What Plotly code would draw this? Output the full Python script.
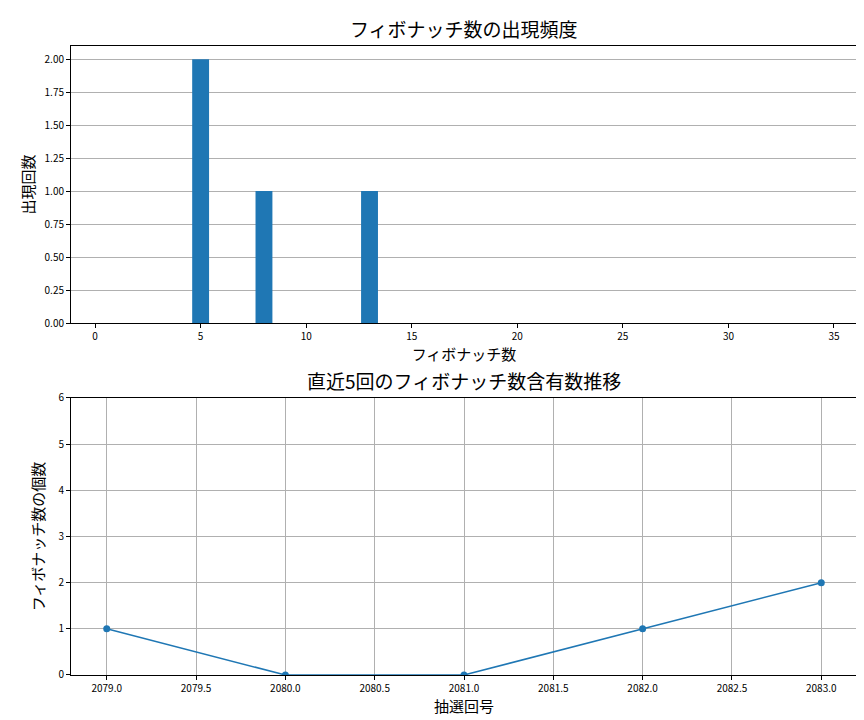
import plotly.graph_objects as go
from plotly.subplots import make_subplots

# top: frequency of fibonacci numbers
fib_numbers = [5, 8, 13]
fib_counts = [2, 1, 1]

# bottom: fibonacci count per draw
draw_ids = [2079, 2080, 2081, 2082, 2083]
fib_per_draw = [1, 0, 0, 1, 2]

blue = "#1f77b4"
font = "Noto Sans CJK JP"

fig = make_subplots(rows=2, cols=1, vertical_spacing=0.1192)

fig.add_trace(go.Bar(x=fib_numbers, y=fib_counts, width=0.8, marker=dict(color=blue, line_width=0)),
              row=1, col=1)
fig.add_trace(go.Scatter(x=draw_ids, y=fib_per_draw, mode="lines+markers",
                         line=dict(color=blue, width=1.5), marker=dict(color=blue, size=7)),
              row=2, col=1)

fig.update_layout(
    width=864, height=720, showlegend=False,
    plot_bgcolor="white", paper_bgcolor="white",
    margin=dict(l=63, r=15, t=38, b=53),
    font=dict(family=font, size=10, color="black"),
    annotations=[
        dict(text="フィボナッチ数の出現頻度", x=0.5, y=1.0, xref="paper", yref="paper",
             xanchor="center", yanchor="bottom", yshift=2, showarrow=False, font=dict(size=19)),
        dict(text="直近5回のフィボナッチ数含有数推移", x=0.5, y=0.4404, xref="paper", yref="paper",
             xanchor="center", yanchor="bottom", yshift=2, showarrow=False, font=dict(size=19)),
    ],
)

axis_common = dict(showline=True, mirror=True, linecolor="black", linewidth=1,
                   ticks="outside", ticklen=4, tickcolor="black", zeroline=False,
                   gridcolor="#b0b0b0", gridwidth=0.8)

fig.update_xaxes(axis_common, row=1, col=1, range=[-1.14, 36.09], dtick=5, showgrid=False,
                 title=dict(text="フィボナッチ数", font=dict(size=15), standoff=4))
fig.update_yaxes(axis_common, row=1, col=1, range=[0, 2.1], dtick=0.25, tickformat=".2f",
                 showgrid=True,
                 title=dict(text="出現回数", font=dict(size=15), standoff=6))
fig.update_xaxes(axis_common, row=2, col=1, range=[2078.8, 2083.2], dtick=0.5, tickformat=".1f",
                 showgrid=True,
                 title=dict(text="抽選回号", font=dict(size=15), standoff=4))
fig.update_yaxes(axis_common, row=2, col=1, range=[0, 6], dtick=1, showgrid=True,
                 title=dict(text="フィボナッチ数の個数", font=dict(size=15), standoff=10))

fig.write_html("out.html")
